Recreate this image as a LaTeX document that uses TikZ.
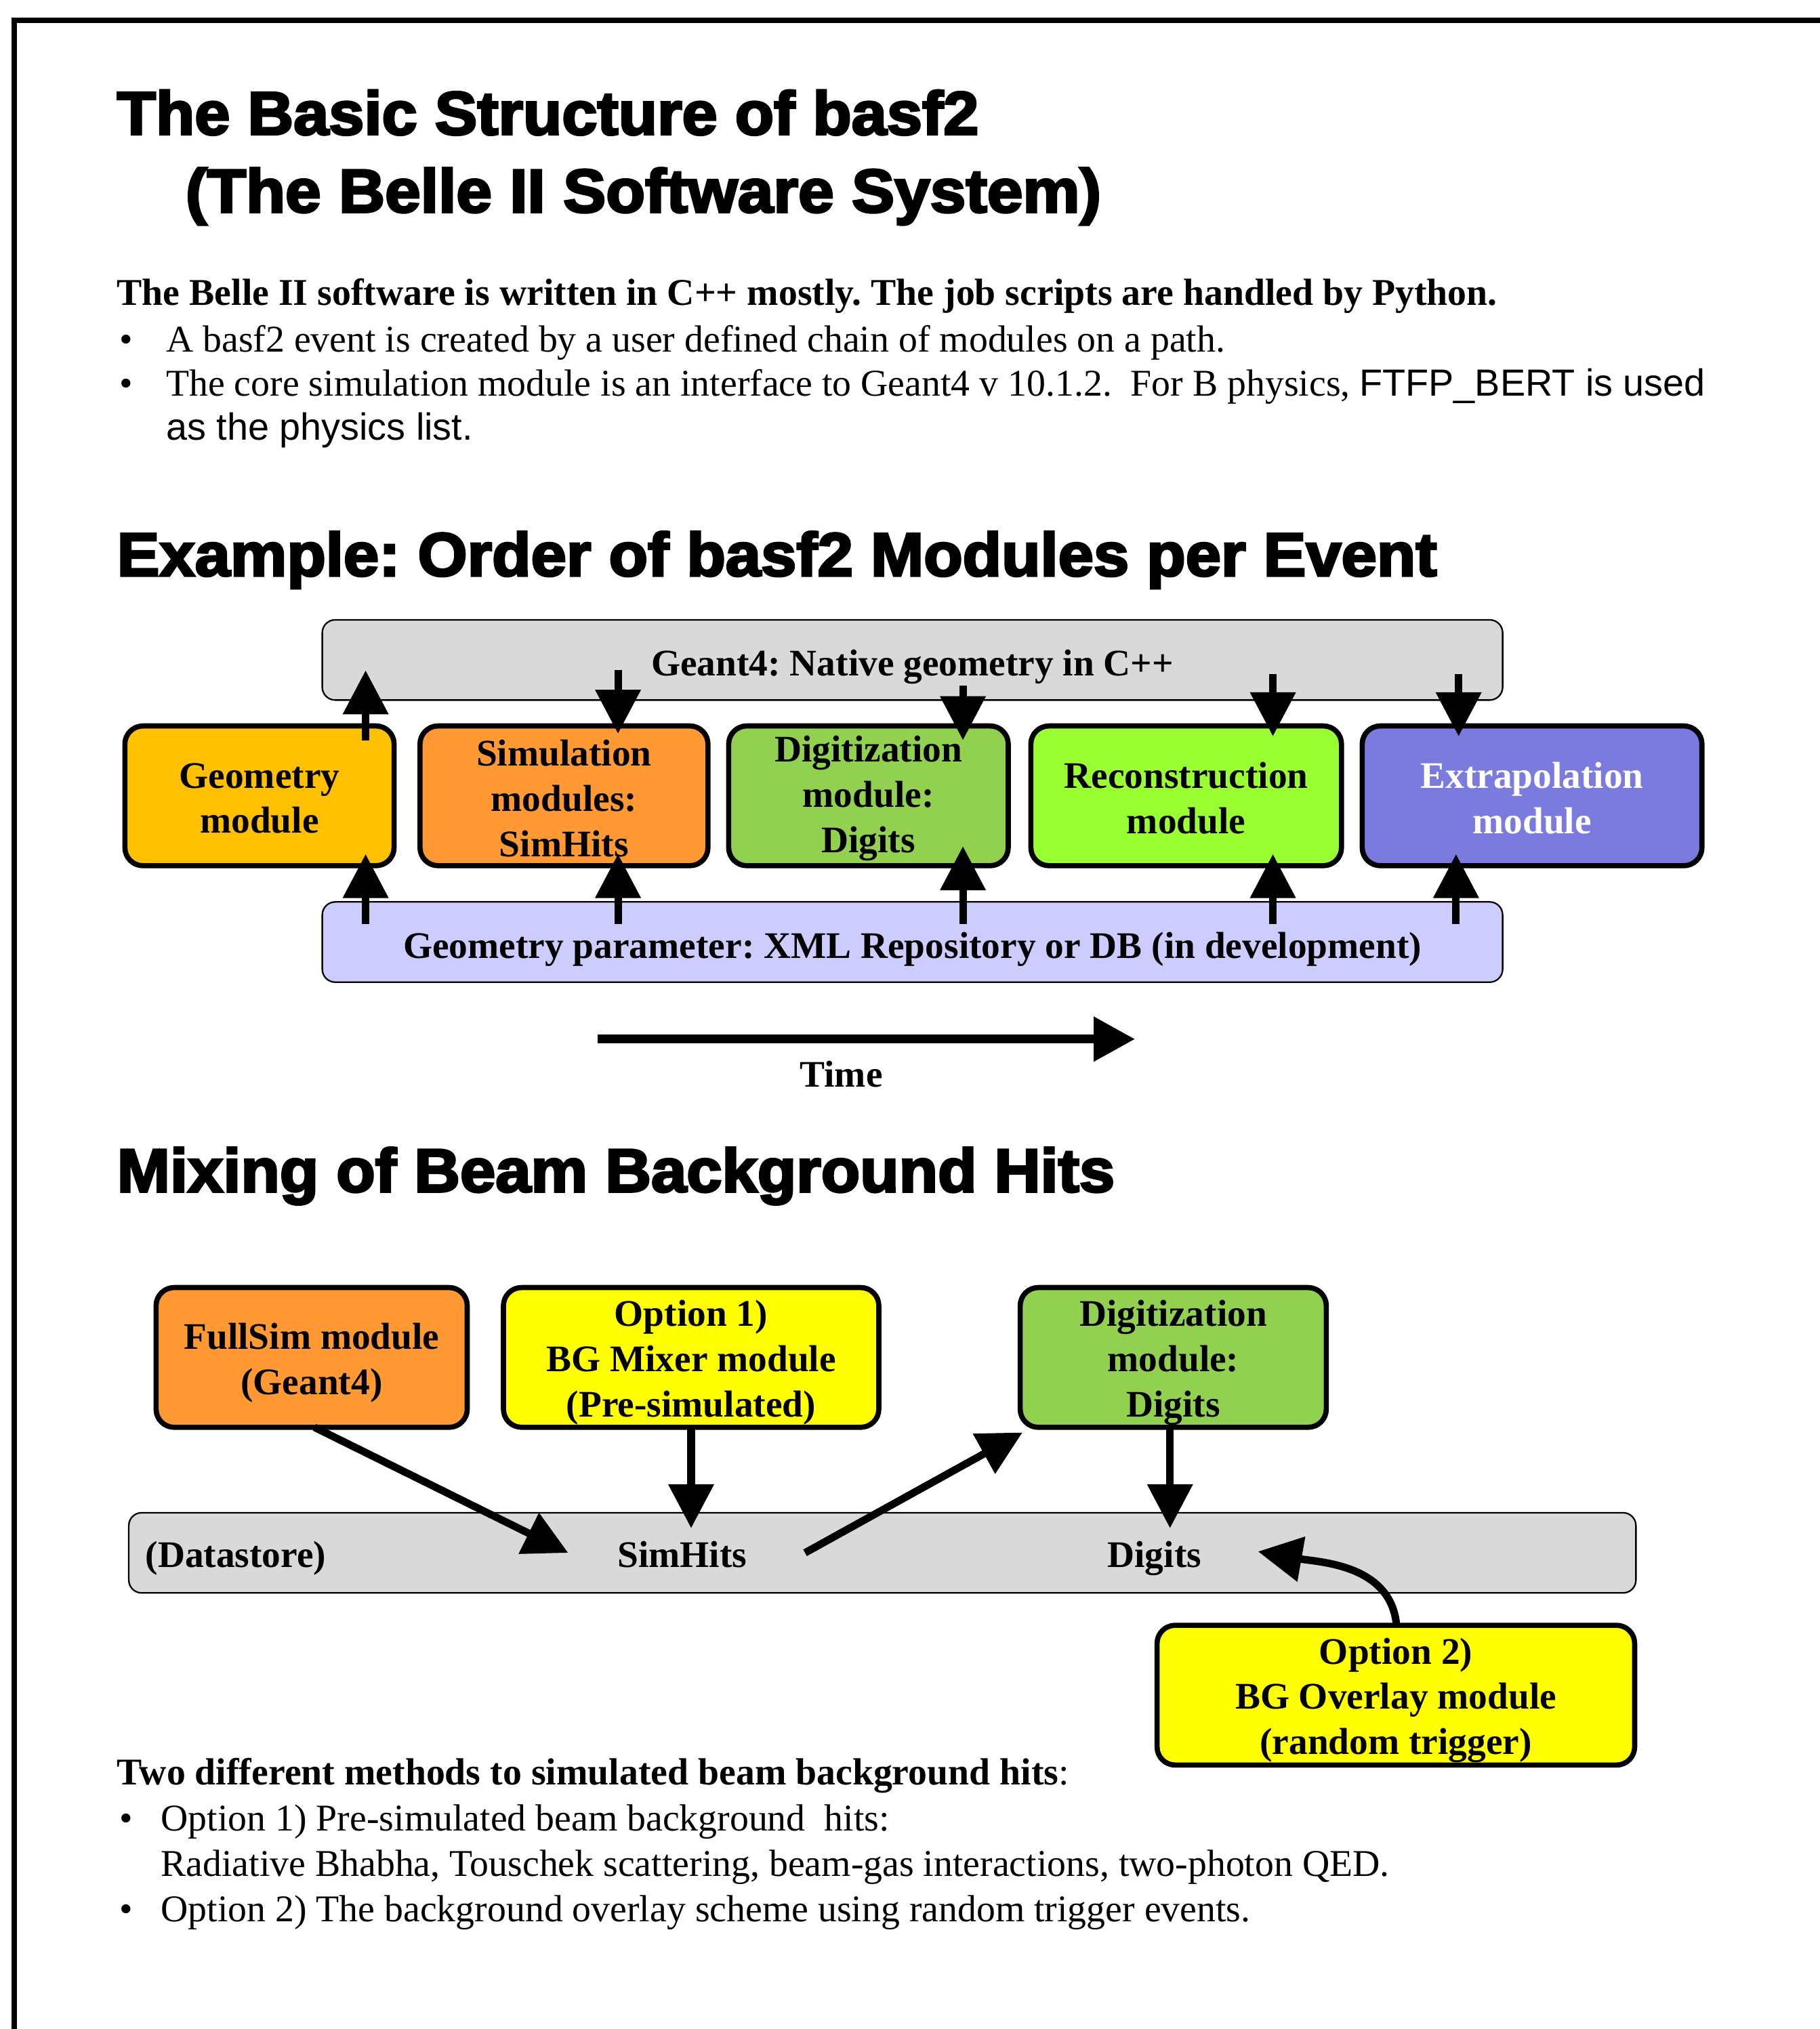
\documentclass[tikz,border=0pt]{standalone}
\usepackage{fontspec}
\setmainfont{Liberation Serif}
\newfontfamily\arial{Liberation Sans}
\newfontfamily\heavy{Liberation Sans}[BoldFeatures={FakeBold=3.5}]
\usetikzlibrary{arrows.meta}
\definecolor{cgeo}{HTML}{FFC000}
\definecolor{csim}{HTML}{FF9933}
\definecolor{cdig}{HTML}{92D050}
\definecolor{crec}{HTML}{99FF33}
\definecolor{cext}{HTML}{7B7BDF}
\definecolor{cgray}{HTML}{D9D9D9}
\definecolor{cpar}{HTML}{CCCCFF}
\definecolor{cyel}{HTML}{FFFF00}
\frenchspacing
\begin{document}
\frenchspacing
\begin{tikzpicture}[x=0.5pt,y=-0.5pt,
  heading/.style={anchor=base west,inner sep=0,font=\heavy\bfseries\fontsize{23.7}{28}\selectfont},
  body/.style={anchor=base west,inner sep=0,font=\fontsize{14.6}{17}\selectfont},
  boxtext/.style={align=center,inner sep=0,yshift=-2pt,font=\bfseries\fontsize{14.5}{17.5}\selectfont},
  toptext/.style={align=center,inner sep=0,yshift=-1pt,font=\bfseries\fontsize{14.5}{17.5}\selectfont},
  bartext/.style={align=center,inner sep=0,yshift=-2.75pt,font=\bfseries\fontsize{14.5}{17.5}\selectfont},
  modbox/.style={draw,line width=2pt,rounded corners=7pt,inner sep=0,minimum height=54pt},
  bar/.style={draw,line width=0.6pt,rounded corners=5pt,inner sep=0,minimum width=456pt,minimum height=31pt},
  arr/.style={line width=2.9pt,-{Triangle[length=17pt,width=17pt]}},
  plain/.style={anchor=base,inner sep=0,font=\bfseries\fontsize{14.5}{17.5}\selectfont},
]
\useasboundingbox (0,0) rectangle (1406,1568);
% frame
\draw[line width=2.1pt] (11,1600) -- (11,15.7) -- (1440,15.7);

% headings and text
\node[heading] (t1) at (90,104) {\scalebox{1.036}[1]{The Basic Structure of basf2}};
\node[heading] (t2) at (143,164) {\scalebox{1.045}[1]{(The Belle II Software System)}};
\node[body,font=\bfseries\fontsize{14.6}{17}\selectfont] (l1) at (90,236) {The Belle II software is written in C++ mostly. The job scripts are handled by Python.};
\node[body] (b1) at (92,272) {•};
\node[body] (l2) at (128,272) {A basf2 event is created by a user defined chain of modules on a path.};
\node[body] (b2) at (92,306) {•};
\node[body] (l3) at (128,306) {The core simulation module is an interface to Geant4 v 10.1.2.\ \ For B physics, {\arial FTFP\_BERT is used}};
\node[body] (l4) at (128,340) {\arial as the physics list.};

\node[heading] (t3) at (90,445) {\scalebox{1.038}[1]{Example: Order of basf2 Modules per Event}};

% modules row
\node[bar,fill=cgray,label={[bartext]center:{Geant4: Native geometry in C++}}] (geant) at (705,510) {};
\node[bar,fill=cpar,label={[bartext]center:{Geometry parameter: XML Repository or DB (in development)}}] (param) at (705,728) {};
\node[modbox,fill=cgeo,minimum width=104pt,label={[toptext]center:{Geometry\\module}}] (geo) at (200.5,615) {};
\node[modbox,fill=csim,minimum width=111.25pt,label={[toptext]center:{Simulation\\modules:\\SimHits}}] (sim) at (435.75,615) {};
\node[modbox,fill=cdig,minimum width=108pt,label={[toptext]center:{Digitization\\module:\\Digits}}] (dig) at (671,615) {};
\node[modbox,fill=crec,minimum width=120pt,label={[toptext]center:{Reconstruction\\module}}] (rec) at (916.5,615) {};
\node[modbox,fill=cext,minimum width=131.25pt,label={[toptext,text=white]center:{Extrapolation\\module}}] (ext) at (1183.75,615) {};

% arrow end points
\coordinate (gA) at (282.5,572);  \coordinate (gB) at (282.5,518);
\coordinate (sA) at (477.5,518);  \coordinate (sB) at (477.5,567);
\coordinate (dA) at (744,530);    \coordinate (dB) at (744,572);
\coordinate (rA) at (983.5,521);  \coordinate (rB) at (983.5,569);
\coordinate (eA) at (1127,521);   \coordinate (eB) at (1127,569);
\coordinate (pg) at (282.5,714);  \coordinate (pg2) at (282.5,660);
\coordinate (ps) at (477.5,714);  \coordinate (ps2) at (477.5,660);
\coordinate (pd) at (744,714);    \coordinate (pd2) at (744,654);
\coordinate (pr) at (983.5,714);  \coordinate (pr2) at (983.5,660);
\coordinate (pe) at (1125,714);   \coordinate (pe2) at (1125,660);
\draw[arr] (gA) -- (gB);
\draw[arr] (sA) -- (sB);
\draw[arr] (dA) -- (dB);
\draw[arr] (rA) -- (rB);
\draw[arr] (eA) -- (eB);
\draw[arr] (pg) -- (pg2);
\draw[arr] (ps) -- (ps2);
\draw[arr] (pd) -- (pd2);
\draw[arr] (pr) -- (pr2);
\draw[arr] (pe) -- (pe2);

% time arrow
\coordinate (time0) at (462,803);
\coordinate (time1) at (877,803);
\draw[line width=3.5pt,-{Triangle[length=16pt,width=16.5pt]}] (time0) -- (time1);
\node[plain] (timel) at (650,840) {Time};

\node[heading] (t4) at (90,921) {\scalebox{1.038}[1]{Mixing of Beam Background Hits}};

% lower diagram
\node[modbox,fill=csim,minimum width=120.2pt,label={[boxtext]center:{FullSim module\\(Geant4)}}] (full) at (240.8,1049) {};
\node[modbox,fill=cyel,minimum width=145pt,label={[boxtext]center:{Option 1)\\BG Mixer module\\(Pre-simulated)}}] (opt1) at (534,1049) {};
\node[modbox,fill=cdig,minimum width=118.25pt,label={[boxtext]center:{Digitization\\module:\\Digits}}] (dig2) at (906.5,1049) {};
\node[bar,fill=cgray,minimum width=582.25pt] (store) at (681.75,1200) {};
\node[modbox,fill=cyel,minimum width=184.5pt,label={[boxtext]center:{Option 2)\\BG Overlay module\\(random trigger)}}] (opt2) at (1078.5,1310) {};
\node[plain,anchor=base west] (dsl) at (112,1211) {(Datastore)};
\node[plain] (simh) at (527,1211) {SimHits};
\node[plain] (digs) at (892,1211) {Digits};

\coordinate (fA) at (243,1103);  \coordinate (fB) at (439,1200);
\coordinate (oA) at (534,1103);  \coordinate (oB) at (534,1181);
\coordinate (hA) at (622,1200);  \coordinate (hB) at (790,1107);
\coordinate (dgA) at (904,1103); \coordinate (dgB) at (904,1181);
\coordinate (o2A) at (1079,1256); \coordinate (o2B) at (972,1199);
\draw[arr] (fA) -- (fB);
\draw[arr] (oA) -- (oB);
\draw[arr] (hA) -- (hB);
\draw[arr] (dgA) -- (dgB);
\draw[arr] (o2A) to[out=95,in=-10] (o2B);

% bottom text
\node[body] (m1) at (90,1379) {\textbf{Two different methods to simulated beam background hits}:};
\node[body] (mb1) at (92,1415) {•};
\node[body] (m2) at (124,1415) {Option 1) Pre-simulated beam background\ \ hits:};
\node[body] (m3) at (124,1450) {Radiative Bhabha, Touschek scattering, beam-gas interactions, two-photon QED.};
\node[body] (mb2) at (92,1485) {•};
\node[body] (m4) at (124,1485) {Option 2) The background overlay scheme using random trigger events.};
\end{tikzpicture}
\end{document}
